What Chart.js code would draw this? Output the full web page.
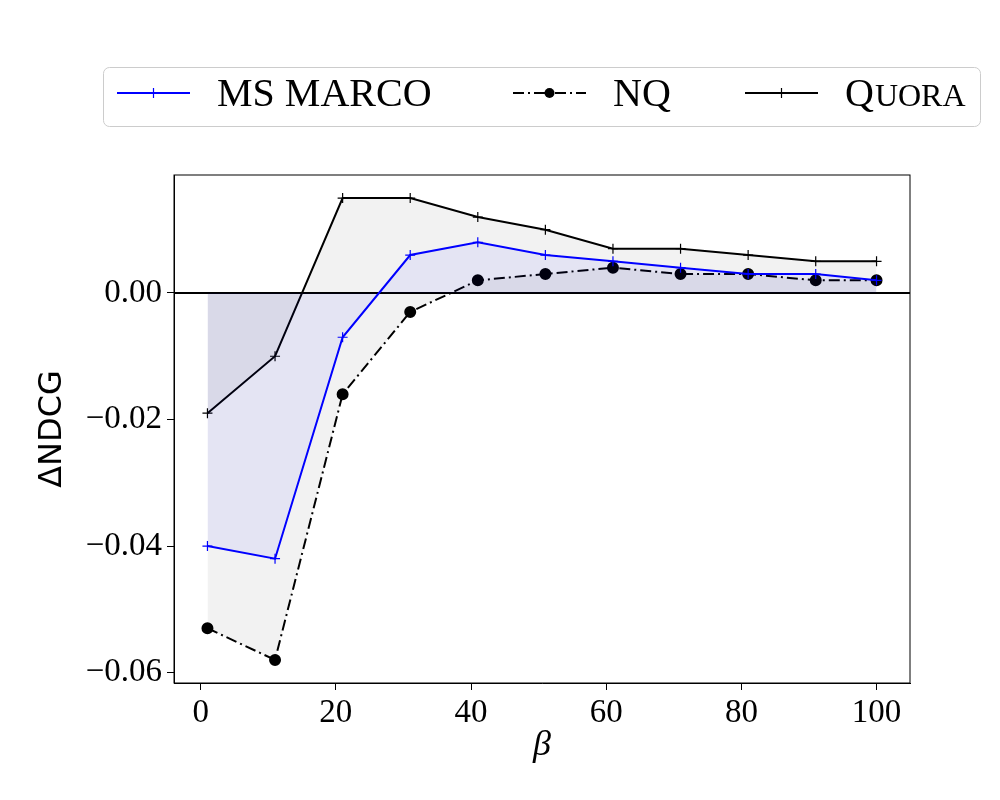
<!DOCTYPE html>
<html>
<head>
<meta charset="utf-8">
<script src="https://cdn.jsdelivr.net/npm/chart.js@4"></script>
<style>
  body { margin: 0; background: #ffffff; }
  #wrap { width: 1000px; height: 800px; }
</style>
</head>
<body>
<div id="wrap"><canvas id="myChart" width="1000" height="800"></canvas></div>
<script>
const betas = [1, 11, 21, 31, 41, 51, 61, 71, 81, 91, 100];
const msmarco = [-0.040, -0.042, -0.007, 0.006, 0.008, 0.006, 0.005, 0.004, 0.003, 0.003, 0.002];
const nq = [-0.053, -0.058, -0.016, -0.003, 0.002, 0.003, 0.004, 0.003, 0.003, 0.002, 0.002];
const quora = [-0.019, -0.010, 0.015, 0.015, 0.012, 0.010, 0.007, 0.007, 0.006, 0.005, 0.005];
const xTicks = [0, 20, 40, 60, 80, 100];
const yTicks = [-0.06, -0.04, -0.02, 0.00];

const SERIF = "'Liberation Serif', 'DejaVu Serif', serif";
const SANS = "'DejaVu Sans', sans-serif";

const pts = (ys) => betas.map((b, i) => ({x: b, y: ys[i]}));

// box + zero line + legend, drawn like matplotlib does
const extras = {
    id: 'extras',
    beforeDatasetsDraw(chart) {
        const {ctx, chartArea, scales} = chart;
        const y0 = scales.y.getPixelForValue(0);
        ctx.save();
        ctx.strokeStyle = '#000';
        ctx.lineWidth = 2;
        ctx.beginPath();
        ctx.moveTo(chartArea.left, y0);
        ctx.lineTo(chartArea.right, y0);
        ctx.stroke();
        ctx.restore();
    },
    afterDraw(chart) {
        const {ctx, chartArea} = chart;
        ctx.save();
        ctx.strokeStyle = '#000';
        ctx.lineWidth = 1;
        ctx.strokeRect(chartArea.left, chartArea.top, chartArea.right - chartArea.left, chartArea.bottom - chartArea.top);

        // legend frame
        ctx.beginPath();
        ctx.roundRect(103.5, 67.5, 877, 59, 6);
        ctx.fillStyle = 'rgba(255,255,255,0.8)';
        ctx.fill();
        ctx.strokeStyle = '#cccccc';
        ctx.stroke();

        const ly = 93;
        const sample = (x0, color, dash, marker) => {
            ctx.strokeStyle = color;
            ctx.lineWidth = 2;
            ctx.setLineDash(dash);
            ctx.beginPath();
            ctx.moveTo(x0, ly);
            ctx.lineTo(x0 + 73, ly);
            ctx.stroke();
            ctx.setLineDash([]);
            const mx = x0 + 36.5;
            if (marker === 'cross') {
                ctx.lineWidth = 1.2;
                ctx.beginPath();
                ctx.moveTo(mx - 5, ly); ctx.lineTo(mx + 5, ly);
                ctx.moveTo(mx, ly - 5); ctx.lineTo(mx, ly + 5);
                ctx.stroke();
            } else {
                ctx.fillStyle = color;
                ctx.beginPath();
                ctx.arc(mx, ly, 5, 0, Math.PI * 2);
                ctx.fill();
            }
        };
        sample(117, '#0000ff', [], 'cross');
        sample(513, '#000000', [11, 4, 2, 4], 'circle');
        sample(745, '#000000', [], 'cross');

        ctx.fillStyle = '#000';
        ctx.textBaseline = 'middle';
        ctx.textAlign = 'left';
        ctx.font = '40px ' + SERIF;
        ctx.fillText('MS MARCO', 217, ly + 2);
        ctx.fillText('NQ', 613, ly + 2);
        ctx.fillText('Q', 845, ly + 2);
        const qw = ctx.measureText('Q').width;
        ctx.font = '32px ' + SERIF;
        ctx.fillText('UORA', 845 + qw + 1, ly + 5);
        ctx.restore();
    }
};

const data = {
    datasets: [
        {
            label: 'MS MARCO',
            data: pts(msmarco),
            borderColor: '#0000ff',
            backgroundColor: 'rgba(0, 0, 255, 0.06)',
            borderWidth: 2,
            fill: 'origin',
            pointStyle: 'cross',
            pointRadius: 5,
            pointBorderWidth: 1.2,
            pointBorderColor: '#0000ff',
            tension: 0,
        },
        {
            label: 'NQ',
            data: pts(nq),
            borderColor: '#000000',
            backgroundColor: 'rgba(0, 0, 0, 0.05)',
            borderWidth: 2,
            borderDash: [11, 4, 2, 4],
            fill: 'origin',
            pointStyle: 'circle',
            pointRadius: 5,
            pointBackgroundColor: '#000000',
            pointBorderColor: '#000000',
            tension: 0,
        },
        {
            label: 'Quora',
            data: pts(quora),
            borderColor: '#000000',
            backgroundColor: 'rgba(0, 0, 0, 0.05)',
            borderWidth: 2,
            fill: 'origin',
            pointStyle: 'cross',
            pointRadius: 5,
            pointBorderWidth: 1.2,
            pointBorderColor: '#000000',
            tension: 0,
        },
    ],
};

const config = {
    type: 'line',
    data: data,
    plugins: [extras],
    options: {
        responsive: false,
        animation: false,
        layout: {padding: {top: 175, right: 90, left: 0, bottom: 0}},
        plugins: {legend: {display: false}, tooltip: {enabled: false}},
        scales: {
            x: {
                type: 'linear',
                min: -3.95,
                max: 104.95,
                afterBuildTicks: (s) => { s.ticks = xTicks.map(v => ({value: v})); },
                afterFit: (s) => { s.height = 117; },
                grid: {drawOnChartArea: false, tickLength: 7, color: '#000', tickWidth: 1},
                border: {display: true, color: '#000'},
                ticks: {color: '#000', font: {family: SERIF, size: 33}, padding: 4, maxRotation: 0},
                title: {display: true, text: 'β', color: '#000', font: {family: SERIF, size: 36, style: 'italic'}, padding: {top: 0, bottom: 33}},
            },
            y: {
                type: 'linear',
                min: -0.06165,
                max: 0.01865,
                afterBuildTicks: (s) => { s.ticks = yTicks.map(v => ({value: v})); },
                afterFit: (s) => { s.width = 174; },
                grid: {drawOnChartArea: false, tickLength: 7, color: '#000', tickWidth: 1},
                border: {display: true, color: '#000'},
                ticks: {
                    color: '#000',
                    font: {family: SERIF, size: 33},
                    padding: 5,
                    callback: (v) => (v < -1e-9 ? '\u2212' : '') + Math.abs(v).toFixed(2),
                },
                title: {display: true, text: 'ΔNDCG', color: '#000', font: {family: SANS, size: 32}, padding: {top: 33, bottom: 0}},
            },
        },
    },
};

const ctx = document.getElementById('myChart').getContext('2d');
const myChart = new Chart(ctx, config);
</script>
</body>
</html>
